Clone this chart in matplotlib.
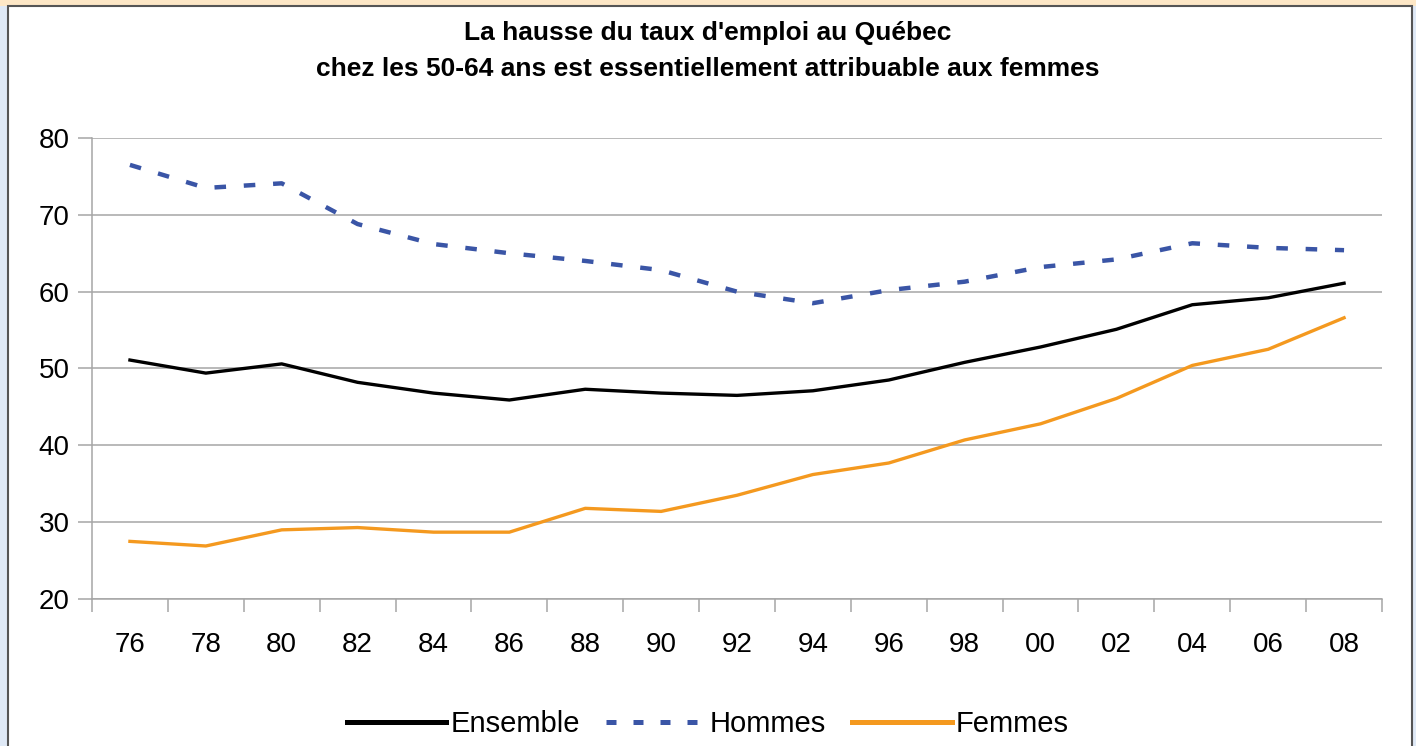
import matplotlib.pyplot as plt
import matplotlib.patches as patches
from matplotlib.lines import Line2D

plt.rcParams['font.family'] = ['Liberation Sans', 'DejaVu Sans']

# Data
years = ['76', '78', '80', '82', '84', '86', '88', '90', '92',
         '94', '96', '98', '00', '02', '04', '06', '08']
ensemble = [51.1, 49.4, 50.6, 48.2, 46.8, 45.9, 47.3, 46.8, 46.5,
            47.1, 48.5, 50.8, 52.8, 55.1, 58.3, 59.2, 61.1]
hommes = [76.5, 73.5, 74.1, 68.8, 66.2, 65.0, 64.0, 62.8, 60.0,
          58.5, 60.2, 61.3, 63.2, 64.2, 66.3, 65.7, 65.4]
femmes = [27.5, 26.9, 29.0, 29.3, 28.7, 28.7, 31.8, 31.4, 33.5,
          36.2, 37.7, 40.7, 42.8, 46.1, 50.4, 52.5, 56.6]

fig = plt.figure(figsize=(14.16, 7.46), dpi=100)
fig.patch.set_facecolor('#dfe9f6')

# background frame like the spreadsheet export
fig.patches.append(patches.Rectangle((0, 1 - 6/746), 1, 6/746, transform=fig.transFigure,
                                     facecolor='#fde7c6', edgecolor='none', zorder=-2))
fig.patches.append(patches.Rectangle((8/1416, -0.01), 1404/1416, 1 - 6/746 + 0.01,
                                     transform=fig.transFigure, facecolor='white',
                                     edgecolor='#555555', linewidth=1.5, zorder=-1))

ax = fig.add_axes([92/1416, 1 - 599/746, 1290/1416, 461/746])
ax.set_facecolor('white')
x = list(range(len(years)))

ax.plot(x, ensemble, color='black', lw=2.4, label='Ensemble', zorder=3)
ax.plot(x, hommes, color='#3a55a6', lw=3.2, dashes=(2.6, 4.0), label='Hommes', zorder=3)
ax.plot(x, femmes, color='#f4991f', lw=2.4, label='Femmes', zorder=3)

ax.set_xlim(-0.5, len(years) - 0.5)
ax.set_ylim(20, 80)
ax.set_yticks(range(20, 81, 10))
ax.yaxis.grid(True, color='#a6a6a6', lw=1.1)
ax.set_axisbelow(True)

ax.set_xticks([i - 0.5 for i in range(len(years) + 1)])
ax.set_xticklabels([])
ax.set_xticks(x, minor=True)
ax.set_xticklabels(years, minor=True)
ax.tick_params(axis='x', which='major', length=9, color='#a6a6a6', width=1.1)
ax.tick_params(axis='x', which='minor', length=0, labelsize=20, pad=24)
ax.tick_params(axis='y', length=10, color='#a6a6a6', width=1.1, labelsize=20, pad=6)

for s in ['top', 'right']:
    ax.spines[s].set_visible(False)
for s in ['left', 'bottom']:
    ax.spines[s].set_color('#a6a6a6')
    ax.spines[s].set_linewidth(1.1)

fig.text(0.5, 1 - 33/746, "La hausse du taux d'emploi au Québec", ha='center', va='center',
         fontsize=19, fontweight='bold')
fig.text(0.5, 1 - 69/746, "chez les 50-64 ans est essentiellement attribuable aux femmes",
         ha='center', va='center', fontsize=19, fontweight='bold')

handles = [Line2D([], [], color='black', lw=3.6),
           Line2D([], [], color='#3a55a6', lw=3.6, dashes=(2.0, 3.4)),
           Line2D([], [], color='#f4991f', lw=3.6)]
fig.legend(handles, ['Ensemble', 'Hommes', 'Femmes'], loc='center',
           bbox_to_anchor=(0.5, 1 - 724/746), ncol=3, frameon=False, fontsize=21,
           handlelength=3.4, handletextpad=0.15, columnspacing=0.9)

fig.savefig('out.png', dpi=100, facecolor=fig.get_facecolor())
